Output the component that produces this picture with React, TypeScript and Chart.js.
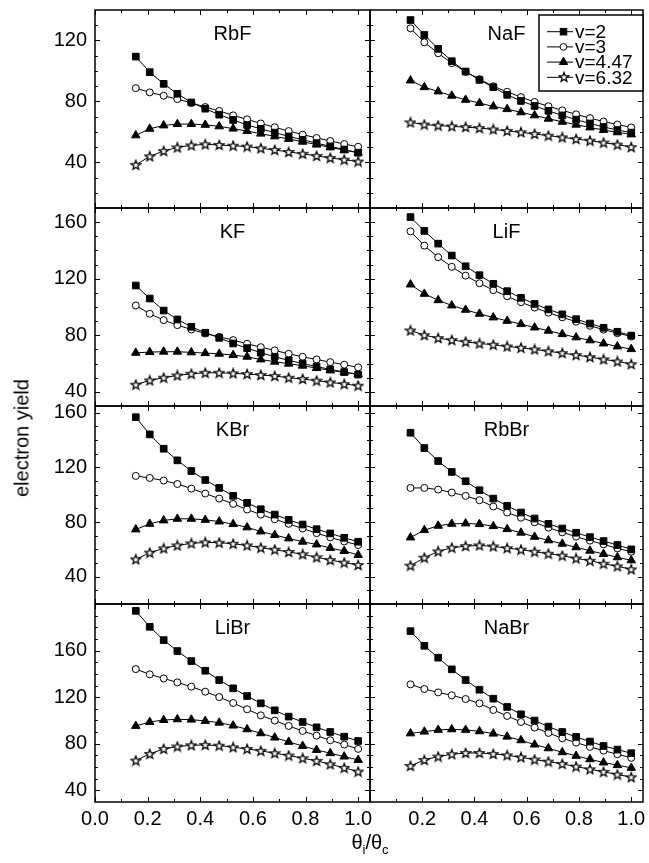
import React, { useEffect, useRef } from 'react';
import { Chart, registerables } from 'chart.js';

Chart.register(...registerables);

const FONT = "'Liberation Sans', Arial, Helvetica, sans-serif";
Chart.defaults.font.family = FONT;
Chart.defaults.color = '#000';

// ---------------- data ----------------
const X_VALUES = [0.155, 0.208, 0.261, 0.313, 0.366, 0.419, 0.472, 0.525, 0.578, 0.630, 0.683, 0.736, 0.789, 0.842, 0.894, 0.947, 1.0];
const SERIES_LABELS = ['v=2', 'v=3', 'v=4.47', 'v=6.32'];

const X_TICKS_LEFT = [0, 0.2, 0.4, 0.6, 0.8, 1.0];
const X_TICKS_RIGHT = [0.2, 0.4, 0.6, 0.8, 1.0];
const X_MAJOR = [0, 0.2, 0.4, 0.6, 0.8, 1.0];
const X_MINOR = [0.1, 0.3, 0.5, 0.7, 0.9];
const X_MAX = 1.045;

const ROW_Y_MIN = [10, 30, 20, 30];
const ROW_Y_MAX = [140, 170, 165, 200];
const ROW_Y_LABELS = [
  [40, 80, 120],
  [40, 80, 120, 160],
  [40, 80, 120, 160],
  [40, 80, 120, 160],
];

const RBF_V2 = [109.4, 99.2, 91.5, 85.0, 79.3, 75.2, 71.3, 67.8, 64.5, 62.0, 59.5, 57.0, 54.8, 52.6, 50.5, 48.4, 46.3];
const RBF_V3 = [88.7, 85.9, 83.7, 81.5, 79.0, 76.3, 73.7, 70.8, 68.2, 65.5, 63.0, 60.5, 58.2, 56.0, 54.0, 52.0, 50.2];
const RBF_V447 = [57.7, 62.0, 64.2, 65.1, 65.1, 64.6, 63.6, 62.1, 60.5, 58.8, 57.0, 55.3, 53.5, 51.6, 49.8, 48.0, 46.3];
const RBF_V632 = [38.3, 43.9, 47.4, 49.8, 51.1, 51.8, 51.4, 50.9, 50.3, 49.2, 48.1, 46.8, 45.6, 44.2, 42.9, 41.7, 40.5];

const NAF_V2 = [133.4, 123.6, 114.5, 106.4, 99.6, 94.1, 89.3, 84.3, 80.3, 77.0, 73.8, 70.8, 68.0, 65.5, 63.2, 61.2, 59.5];
const NAF_V3 = [128.0, 118.8, 111.6, 105.1, 99.4, 94.6, 89.9, 86.3, 82.8, 79.6, 76.8, 74.1, 71.5, 69.0, 66.8, 64.8, 62.9];
const NAF_V447 = [93.7, 89.3, 86.5, 83.7, 81.0, 78.9, 76.7, 74.9, 72.8, 70.8, 68.6, 66.6, 64.7, 62.9, 61.2, 59.7, 58.3];
const NAF_V632 = [66.2, 64.8, 64.1, 63.6, 63.1, 62.5, 61.6, 60.6, 59.7, 58.6, 57.5, 56.4, 55.3, 54.2, 52.9, 51.6, 50.0];

const KF_V2 = [115.2, 106.0, 97.5, 91.2, 86.0, 81.8, 78.2, 74.2, 70.9, 67.7, 64.8, 62.3, 60.0, 57.9, 55.9, 54.0, 52.2];
const KF_V3 = [101.1, 95.2, 90.7, 87.2, 84.1, 81.3, 78.9, 76.6, 74.0, 71.6, 69.3, 66.9, 64.8, 62.9, 61.0, 59.2, 57.3];
const KF_V447 = [67.6, 68.1, 68.4, 68.4, 67.9, 67.4, 66.9, 66.0, 64.8, 62.9, 61.3, 59.9, 58.5, 56.8, 55.2, 53.8, 52.6];
const KF_V632 = [45.1, 48.1, 50.0, 51.6, 52.8, 53.5, 53.5, 53.1, 52.6, 51.9, 51.2, 50.0, 49.1, 47.9, 46.7, 45.5, 44.4];

const LIF_V2 = [163.6, 153.8, 144.8, 136.4, 128.8, 122.5, 116.4, 111.2, 106.5, 102.2, 98.3, 94.8, 91.4, 88.3, 85.3, 82.5, 79.8];
const LIF_V3 = [153.5, 143.4, 135.2, 128.4, 122.2, 116.8, 111.9, 107.6, 103.4, 99.6, 96.0, 92.7, 89.6, 86.7, 84.0, 81.5, 79.2];
const LIF_V447 = [115.9, 109.3, 104.8, 101.1, 98.0, 95.2, 92.6, 90.2, 87.9, 85.5, 83.2, 80.8, 78.5, 76.4, 74.2, 72.1, 70.2];
const LIF_V632 = [83.4, 80.1, 78.0, 76.6, 75.4, 74.2, 73.3, 72.1, 71.2, 70.0, 68.7, 67.4, 66.0, 64.6, 63.0, 61.5, 59.6];

const KBR_V2 = [156.8, 144.2, 133.7, 125.2, 117.4, 110.8, 105.0, 99.2, 94.1, 89.4, 85.5, 81.6, 78.2, 74.8, 71.7, 68.5, 65.6];
const KBR_V3 = [113.8, 112.3, 110.4, 107.9, 104.5, 100.9, 97.2, 93.3, 89.2, 85.5, 82.1, 78.7, 75.3, 71.9, 68.8, 65.8, 63.2];
const KBR_V447 = [74.6, 78.7, 81.2, 82.4, 82.4, 81.6, 80.4, 78.5, 76.1, 73.1, 70.5, 68.0, 65.6, 63.6, 61.0, 58.8, 55.9];
const KBR_V632 = [52.7, 57.6, 60.7, 62.9, 64.4, 65.1, 64.9, 64.1, 62.9, 61.2, 59.8, 58.1, 56.4, 54.2, 52.2, 50.3, 48.6];

const RBBR_V2 = [145.4, 134.2, 124.7, 116.7, 109.9, 103.3, 97.2, 91.9, 87.0, 82.6, 78.7, 75.3, 72.2, 69.0, 66.1, 63.2, 60.0];
const RBBR_V3 = [105.0, 105.0, 103.8, 101.6, 99.2, 96.0, 91.4, 87.0, 83.2, 79.8, 75.9, 72.5, 69.3, 66.4, 63.7, 60.7, 58.3];
const RBBR_V447 = [68.7, 74.1, 77.3, 78.7, 79.0, 78.5, 77.0, 74.8, 72.2, 69.2, 66.6, 64.1, 61.5, 59.0, 56.6, 54.2, 52.0];
const RBBR_V632 = [48.1, 53.9, 58.5, 61.2, 62.4, 62.9, 62.2, 60.9, 59.8, 58.3, 56.8, 55.4, 53.4, 51.7, 49.5, 47.6, 45.4];

const LIBR_V2 = [194.1, 180.4, 169.0, 159.6, 151.0, 142.7, 134.7, 127.6, 121.0, 114.7, 108.7, 103.3, 98.7, 94.1, 90.1, 86.1, 82.4];
const LIBR_V3 = [144.1, 139.6, 136.1, 132.7, 129.0, 124.7, 120.1, 115.0, 109.6, 104.4, 99.9, 95.3, 91.0, 87.0, 83.0, 79.3, 75.6];
const LIBR_V447 = [95.3, 98.7, 100.4, 101.0, 100.7, 99.6, 98.1, 95.6, 92.4, 89.0, 85.3, 81.6, 78.1, 74.7, 71.9, 69.0, 66.1];
const LIBR_V632 = [65.6, 71.3, 75.6, 77.6, 78.7, 79.0, 78.4, 77.0, 75.6, 73.9, 71.9, 69.9, 67.6, 65.3, 62.4, 59.3, 56.1];

const NABR_V2 = [176.7, 164.1, 153.9, 143.9, 134.7, 126.4, 118.7, 111.6, 105.3, 99.9, 94.7, 90.1, 85.9, 81.9, 78.1, 75.0, 71.9];
const NABR_V3 = [131.0, 127.0, 124.1, 121.6, 118.4, 114.7, 109.0, 103.9, 98.7, 93.9, 89.3, 84.7, 81.0, 77.3, 74.1, 71.0, 67.9];
const NABR_V447 = [88.9, 90.4, 91.9, 92.4, 91.9, 90.7, 88.7, 86.1, 83.0, 79.3, 76.1, 72.7, 69.6, 66.7, 63.9, 61.6, 59.3];
const NABR_V632 = [61.0, 66.1, 69.0, 71.0, 72.1, 72.1, 71.3, 70.1, 68.4, 66.4, 64.7, 62.7, 60.4, 58.1, 55.9, 53.6, 51.3];

const PANELS = [
  { name: 'RbF', row: 0, col: 0, series: [RBF_V2, RBF_V3, RBF_V447, RBF_V632], legend: false },
  { name: 'NaF', row: 0, col: 1, series: [NAF_V2, NAF_V3, NAF_V447, NAF_V632], legend: true },
  { name: 'KF', row: 1, col: 0, series: [KF_V2, KF_V3, KF_V447, KF_V632], legend: false },
  { name: 'LiF', row: 1, col: 1, series: [LIF_V2, LIF_V3, LIF_V447, LIF_V632], legend: false },
  { name: 'KBr', row: 2, col: 0, series: [KBR_V2, KBR_V3, KBR_V447, KBR_V632], legend: false },
  { name: 'RbBr', row: 2, col: 1, series: [RBBR_V2, RBBR_V3, RBBR_V447, RBBR_V632], legend: false },
  { name: 'LiBr', row: 3, col: 0, series: [LIBR_V2, LIBR_V3, LIBR_V447, LIBR_V632], legend: false },
  { name: 'NaBr', row: 3, col: 1, series: [NABR_V2, NABR_V3, NABR_V447, NABR_V632], legend: false },
];

// ---------------- layout ----------------
const W = 649;
const H = 863;
const PLOT_X = [95, 370, 645];
const PLOT_Y = [10, 208, 406, 604, 802];
const PAD = 6;

let STAR: HTMLCanvasElement | null = null;
function getStar(): HTMLCanvasElement {
  if (STAR) return STAR;
  const c = document.createElement('canvas');
  c.width = 12;
  c.height = 12;
  const g = c.getContext('2d')!;
  g.beginPath();
  for (let i = 0; i < 10; i++) {
    const r = i % 2 === 0 ? 4.9 : 2.1;
    const a = -Math.PI / 2 + (i * Math.PI) / 5;
    const px = 6 + r * Math.cos(a);
    const py = 6.4 + r * Math.sin(a);
    if (i === 0) g.moveTo(px, py);
    else g.lineTo(px, py);
  }
  g.closePath();
  g.fillStyle = '#fff';
  g.fill();
  g.lineWidth = 1.3;
  g.lineJoin = 'miter';
  g.strokeStyle = '#000';
  g.stroke();
  STAR = c;
  return c;
}

function drawLegendMarker(ctx: CanvasRenderingContext2D, k: number, x: number, y: number) {
  ctx.save();
  ctx.lineWidth = 1;
  ctx.strokeStyle = '#000';
  if (k === 0) {
    const s = 6.5;
    ctx.fillStyle = '#000';
    ctx.fillRect(x - s / 2, y - s / 2, s, s);
    ctx.strokeRect(x - s / 2, y - s / 2, s, s);
  } else if (k === 1) {
    ctx.beginPath();
    ctx.arc(x, y, 3.4, 0, Math.PI * 2);
    ctx.fillStyle = '#fff';
    ctx.fill();
    ctx.stroke();
  } else if (k === 2) {
    const r = 4.8;
    ctx.beginPath();
    for (let i = 0; i < 3; i++) {
      const a = (i * 2 * Math.PI) / 3;
      const px = x + Math.sin(a) * r;
      const py = y - Math.cos(a) * r;
      if (i === 0) ctx.moveTo(px, py);
      else ctx.lineTo(px, py);
    }
    ctx.closePath();
    ctx.fillStyle = '#000';
    ctx.fill();
    ctx.stroke();
  } else {
    const s = getStar();
    ctx.drawImage(s, Math.round(x - s.width / 2), Math.round(y - s.height / 2));
  }
  ctx.restore();
}

const decorPlugin = {
  id: 'panelDecor',
  afterDatasetsDraw(chart: any, _args: any, opts: any) {
    const { ctx, chartArea: a, scales } = chart;
    const xs = scales.x;
    const ys = scales.y;
    ctx.save();
    ctx.strokeStyle = '#000';
    ctx.lineWidth = 1;
    const seg = (x1: number, y1: number, x2: number, y2: number) => {
      ctx.beginPath();
      ctx.moveTo(x1, y1);
      ctx.lineTo(x2, y2);
      ctx.stroke();
    };
    X_MAJOR.forEach((v) => {
      const px = Math.round(xs.getPixelForValue(v)) + 0.5;
      seg(px, a.bottom, px, a.bottom - 5);
      seg(px, a.top, px, a.top + 5);
    });
    X_MINOR.forEach((v) => {
      const px = Math.round(xs.getPixelForValue(v)) + 0.5;
      seg(px, a.bottom, px, a.bottom - 3);
      seg(px, a.top, px, a.top + 3);
    });
    for (let v = Math.ceil(opts.yMin / 10) * 10; v < opts.yMax; v += 10) {
      if (v <= opts.yMin) continue;
      const len = v % 40 === 0 ? 5 : 3;
      const py = Math.round(ys.getPixelForValue(v)) + 0.5;
      seg(a.left, py, a.left + len, py);
      seg(a.right, py, a.right - len, py);
    }
    ctx.lineWidth = 1.5;
    ctx.strokeRect(a.left, a.top, a.right - a.left, a.bottom - a.top);

    ctx.fillStyle = '#000';
    ctx.font = `20px ${FONT}`;
    ctx.textAlign = 'center';
    ctx.textBaseline = 'alphabetic';
    ctx.fillText(opts.name, (a.left + a.right) / 2, a.top + 30);

    if (opts.legend) {
      const bx = a.left + 169;
      const by = a.top + 5;
      const bw = 104;
      const bh = 76;
      ctx.fillStyle = '#fff';
      ctx.fillRect(bx, by, bw, bh);
      ctx.lineWidth = 1.5;
      ctx.strokeRect(bx, by, bw, bh);
      ctx.lineWidth = 1;
      chart.data.datasets.forEach((ds: any, k: number) => {
        const cy = by + 16.7 + k * 15.2;
        seg(bx + 8, cy, bx + 34, cy);
        drawLegendMarker(ctx, k, bx + 24.5, cy);
        ctx.fillStyle = '#000';
        ctx.font = `19px ${FONT}`;
        ctx.textAlign = 'left';
        ctx.textBaseline = 'middle';
        ctx.fillText(ds.label, bx + 36, cy + 1);
      });
    }
    ctx.restore();
  },
};

type PanelDef = (typeof PANELS)[number];

function Panel({ p }: { p: PanelDef }) {
  const ref = useRef<HTMLCanvasElement | null>(null);
  const isLeft = p.col === 0;
  const isBottom = p.row === 3;
  const cLeft = isLeft ? 0 : PLOT_X[1] - PAD;
  const cRight = isLeft ? PLOT_X[1] + PAD : W;
  const cTop = p.row === 0 ? 0 : PLOT_Y[p.row] - PAD;
  const cBottom = isBottom ? H : PLOT_Y[p.row + 1] + PAD;
  const cw = cRight - cLeft;
  const ch = cBottom - cTop;

  useEffect(() => {
    const canvas = ref.current;
    if (!canvas) return;
    const star = getStar();
    const styles = [
      { pointStyle: 'rect', radius: 4.7, bg: '#000' },
      { pointStyle: 'circle', radius: 3.5, bg: '#fff' },
      { pointStyle: 'triangle', radius: 4.9, bg: '#000' },
      { pointStyle: star, radius: 5, bg: '#fff' },
    ];
    const yMin = ROW_Y_MIN[p.row];
    const yMax = ROW_Y_MAX[p.row];
    const yLabels = ROW_Y_LABELS[p.row];
    const xLabels = isLeft ? X_TICKS_LEFT : X_TICKS_RIGHT;
    const chart = new Chart(canvas, {
      type: 'line',
      data: {
        datasets: p.series.map((vals, k) => ({
          label: SERIES_LABELS[k],
          data: X_VALUES.map((x, i) => ({ x, y: vals[i] })),
          borderColor: '#000',
          borderWidth: 1,
          backgroundColor: styles[k].bg,
          pointStyle: styles[k].pointStyle as any,
          pointRadius: styles[k].radius,
          pointBorderWidth: 1,
          pointBorderColor: '#000',
          pointBackgroundColor: styles[k].bg,
          tension: 0,
          fill: false,
        })),
      },
      options: {
        animation: false,
        responsive: false,
        maintainAspectRatio: false,
        events: [],
        layout: {
          padding: {
            left: isLeft ? 0 : PAD,
            right: isLeft ? PAD : W - PLOT_X[2],
            top: p.row === 0 ? PLOT_Y[0] : PAD,
            bottom: isBottom ? 0 : PAD,
          },
        },
        plugins: {
          legend: { display: false },
          tooltip: { enabled: false },
          title: { display: false },
          panelDecor: { name: p.name, legend: p.legend, yMin, yMax },
        } as any,
        scales: {
          x: {
            type: 'linear',
            min: 0,
            max: X_MAX,
            display: isBottom,
            grid: { display: false, drawTicks: false },
            border: { display: false },
            ticks: {
              font: { size: 20, family: FONT },
              color: '#000',
              padding: 5,
              maxRotation: 0,
              autoSkip: false,
              callback: (v: any) => Number(v).toFixed(1),
            },
            afterBuildTicks: (scale: any) => {
              scale.ticks = xLabels.map((v) => ({ value: v }));
            },
            afterFit: (scale: any) => {
              if (!isBottom) return;
              scale.height = H - PLOT_Y[4];
              scale.paddingLeft = 0;
              scale.paddingRight = 0;
            },
          },
          y: {
            type: 'linear',
            min: yMin,
            max: yMax,
            display: isLeft,
            grid: { display: false, drawTicks: false },
            border: { display: false },
            ticks: {
              font: { size: 20, family: FONT },
              color: '#000',
              padding: 8,
              autoSkip: false,
              callback: (v: any) => String(v),
            },
            afterBuildTicks: (scale: any) => {
              scale.ticks = yLabels.map((v) => ({ value: v }));
            },
            afterFit: (scale: any) => {
              if (!isLeft) return;
              scale.width = PLOT_X[0];
              scale.paddingTop = 0;
              scale.paddingBottom = 0;
            },
          },
        },
      } as any,
      plugins: [decorPlugin as any],
    });
    return () => chart.destroy();
  }, []);

  return (
    <canvas
      ref={ref}
      width={cw}
      height={ch}
      style={{ position: 'absolute', left: cLeft, top: cTop, width: cw, height: ch }}
    />
  );
}

export default function App() {
  return (
    <div style={{ position: 'absolute', left: 0, top: 0, width: W, height: H, background: '#fff', overflow: 'hidden' }}>
      {PANELS.map((p) => (
        <Panel key={p.name} p={p} />
      ))}
      <div
        style={{
          position: 'absolute',
          left: 22,
          top: 438,
          transform: 'translate(-50%, -50%) rotate(-90deg)',
          font: `20px ${FONT}`,
          color: '#000',
          whiteSpace: 'nowrap',
        }}
      >
        electron yield
      </div>
      <div
        style={{
          position: 'absolute',
          left: 370,
          top: 846,
          transform: 'translate(-50%, -50%)',
          font: `20px ${FONT}`,
          color: '#000',
          whiteSpace: 'nowrap',
          lineHeight: '20px',
        }}
      >
        θ<sub style={{ fontSize: 13 }}>i</sub>/θ<sub style={{ fontSize: 13 }}>c</sub>
      </div>
    </div>
  );
}
